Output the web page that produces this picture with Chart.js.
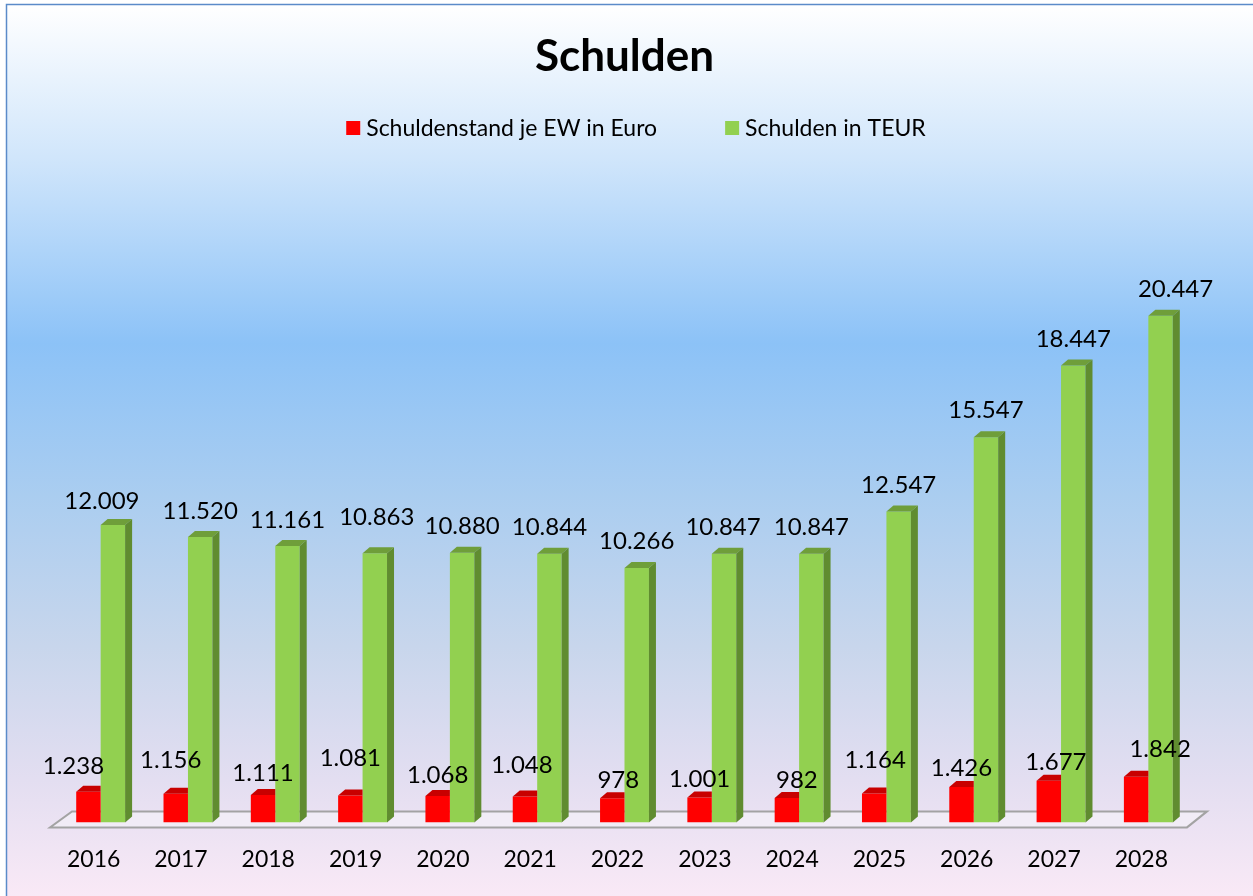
<!DOCTYPE html>
<html>
<head>
<meta charset="utf-8">
<script src="https://cdn.jsdelivr.net/npm/chart.js@4.4.1/dist/chart.umd.min.js"></script>
<style>
html, body { margin: 0; padding: 0; background: #fff; }
#wrap { width: 1253px; height: 896px; }
</style>
</head>
<body>
<div id="wrap"><canvas id="chart" width="1253" height="896"></canvas></div>
<script>
const years = ['2016', '2017', '2018', '2019', '2020', '2021', '2022', '2023', '2024', '2025', '2026', '2027', '2028'];
const perResident = [1238, 1156, 1111, 1081, 1068, 1048, 978, 1001, 982, 1164, 1426, 1677, 1842];
const debtTEUR = [12009, 11520, 11161, 10863, 10880, 10844, 10266, 10847, 10847, 12547, 15547, 18447, 20447];
const seriesNames = ['Schuldenstand je EW in Euro', 'Schulden in TEUR'];
const chartTitle = 'Schulden';

// label placement (px), like the original where labels dodge each other
const labelShiftX = [
	[-15, -5, 0, 0, 0, -3, 6, 0, 10, 1, 0, 7, 24],
	[-11, 0, 0, 2, 0, 0, 0, -1, 0, 0, 0, 0, 15]
];
const labelLift = [
	[26, 34, 23, 38, 22, 32, 19, 19, 19, 34, 20, 20, 28],
	[25, 27, 27, 37, 28, 27, 28, 27, 27, 27, 28, 27, 28]
];

const FONT = 'Lato';
const DEPTH_X = 7;
const DEPTH_Y = 6;

// German thousands separator
function fmt(v) {
	return String(v).replace(/\B(?=(\d{3})+(?!\d))/g, '.');
}

const backgroundPlugin = {
	id: 'background',
	beforeDraw(chart) {
		const { ctx, width, height } = chart;
		ctx.save();
		ctx.fillStyle = '#ffffff';
		ctx.fillRect(0, 0, width, height);
		const g = ctx.createLinearGradient(0, 5, 0, height);
		g.addColorStop(0, '#ffffff');
		g.addColorStop(0.04, '#f4f9fe');
		g.addColorStop(0.17, '#d1e6fb');
		g.addColorStop(0.38, '#8cc2f7');
		g.addColorStop(0.55, '#aacdf0');
		g.addColorStop(0.72, '#c8d6ec');
		g.addColorStop(0.87, '#e3def1');
		g.addColorStop(1, '#f9e9f6');
		ctx.fillStyle = g;
		ctx.fillRect(7, 5, width, height);
		ctx.strokeStyle = '#5b8bc9';
		ctx.lineWidth = 1.5;
		ctx.strokeRect(6.5, 4.5, width + 10, height + 10);
		ctx.restore();
	}
};

const floorPlugin = {
	id: 'floor',
	beforeDatasetsDraw(chart) {
		const { ctx, chartArea } = chart;
		const yFront = chartArea.bottom + 5;
		const yBack = chartArea.bottom - 11;
		ctx.save();
		ctx.beginPath();
		ctx.moveTo(chartArea.left - 7, yFront);
		ctx.lineTo(chartArea.right - 5, yFront);
		ctx.lineTo(chartArea.right + 15, yBack);
		ctx.lineTo(chartArea.left + 15, yBack);
		ctx.closePath();
		ctx.fillStyle = 'rgba(245, 243, 248, 0.6)';
		ctx.fill();
		ctx.strokeStyle = '#a3a3a3';
		ctx.lineWidth = 2;
		ctx.stroke();
		ctx.restore();
	}
};

const depthPlugin = {
	id: 'depth',
	afterDatasetsDraw(chart) {
		const { ctx } = chart;
		const last = chart.data.datasets.length - 1;
		ctx.save();
		chart.data.datasets.forEach((ds, di) => {
			const meta = chart.getDatasetMeta(di);
			meta.data.forEach((bar) => {
				const { x, y, base, width } = bar.getProps(['x', 'y', 'base', 'width'], true);
				const left = x - width / 2;
				const right = x + width / 2;
				const covered = di < last;
				ctx.fillStyle = ds.topColor;
				ctx.beginPath();
				ctx.moveTo(left, y);
				ctx.lineTo(left + DEPTH_X, y - DEPTH_Y);
				ctx.lineTo(covered ? right : right + DEPTH_X, y - DEPTH_Y);
				ctx.lineTo(right, y);
				ctx.closePath();
				ctx.fill();
				if (!covered) {
					ctx.fillStyle = ds.sideColor;
					ctx.beginPath();
					ctx.moveTo(right, y);
					ctx.lineTo(right + DEPTH_X, y - DEPTH_Y);
					ctx.lineTo(right + DEPTH_X, base - DEPTH_Y);
					ctx.lineTo(right, base);
					ctx.closePath();
					ctx.fill();
				}
			});
		});
		ctx.restore();
	}
};

const valueLabelPlugin = {
	id: 'valueLabels',
	afterDatasetsDraw(chart) {
		const { ctx } = chart;
		ctx.save();
		ctx.font = '24px ' + FONT;
		ctx.fillStyle = '#000';
		ctx.textAlign = 'center';
		ctx.textBaseline = 'middle';
		chart.data.datasets.forEach((ds, di) => {
			chart.getDatasetMeta(di).data.forEach((bar, i) => {
				ctx.fillText(fmt(ds.data[i]), bar.x + labelShiftX[di][i], bar.y - labelLift[di][i] + 1);
			});
		});
		ctx.restore();
	}
};

const legendPlugin = {
	id: 'legendRow',
	afterDraw(chart) {
		const { ctx } = chart;
		const box = 14, gap = 6, spacing = 68, y = 128;
		ctx.save();
		ctx.font = '23px ' + FONT;
		ctx.textBaseline = 'middle';
		const items = chart.data.datasets.map((ds) => ({
			text: ds.label,
			color: ds.backgroundColor,
			w: box + gap + ctx.measureText(ds.label).width
		}));
		const total = items.reduce((s, it) => s + it.w, 0) + spacing * (items.length - 1);
		let x = 636 - total / 2;
		items.forEach((it) => {
			ctx.fillStyle = it.color;
			ctx.fillRect(x, y - box / 2, box, box);
			ctx.fillStyle = '#000';
			ctx.fillText(it.text, x + box + gap, y + 1);
			x += it.w + spacing;
		});
		ctx.restore();
	}
};

new Chart(document.getElementById('chart'), {
	type: 'bar',
	data: {
		labels: years,
		datasets: [
			{
				label: seriesNames[0],
				data: perResident,
				backgroundColor: '#ff0000',
				topColor: '#c80000',
				sideColor: '#b00000',
				borderWidth: 0
			},
			{
				label: seriesNames[1],
				data: debtTEUR,
				backgroundColor: '#92d050',
				topColor: '#6f9e3a',
				sideColor: '#608c30',
				borderWidth: 0
			}
		]
	},
	options: {
		responsive: false,
		animation: false,
		devicePixelRatio: 1,
		categoryPercentage: 0.56,
		barPercentage: 1,
		layout: { padding: { left: 57, right: 61, top: 0, bottom: 0 } },
		plugins: {
			legend: { display: false },
			tooltip: { enabled: false },
			title: {
				display: true,
				text: chartTitle,
				color: '#000',
				font: { family: FONT, size: 44, weight: 'bold' },
				padding: { top: 30, bottom: 145 }
			}
		},
		scales: {
			x: {
				grid: { display: false, drawTicks: false },
				border: { display: false },
				ticks: {
					color: '#000',
					font: { family: FONT, size: 23 },
					padding: 23,
					labelOffset: -7
				}
			},
			y: {
				display: false,
				min: 0,
				max: 24000
			}
		}
	},
	plugins: [backgroundPlugin, floorPlugin, depthPlugin, valueLabelPlugin, legendPlugin]
});
</script>
</body>
</html>
